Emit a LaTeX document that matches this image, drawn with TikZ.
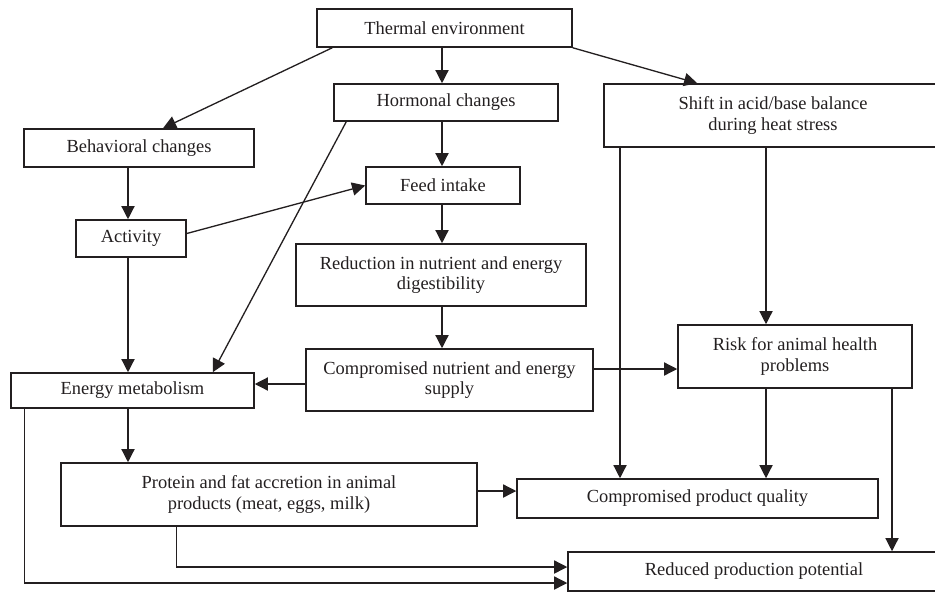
\documentclass[tikz,border=0pt]{standalone}
\usepackage{fontspec}
\setmainfont{Liberation Serif}
\usepackage{xcolor}
\usepackage{tikz}
\usetikzlibrary{arrows.meta,calc}
\definecolor{nero}{HTML}{231F20}
\tikzset{
    blocco/.style={draw=nero, line width=0.9pt, align=center, inner sep=0pt,
        text=nero, font=\fontsize{10.5}{11.5}\selectfont},
    freccia/.style={draw=nero, line width=0.75pt, -{Triangle[length=7.5pt,width=7.5pt]}},
}

\begin{document}
\begin{tikzpicture}[x=0.02cm, y=-0.02cm]
        \useasboundingbox (0,0) rectangle (935,592);
        \clip (0,0) rectangle (935,592);
        % blocchi
        \node[blocco, minimum width=5.10cm, minimum height=0.76cm] (therm) at (444.5,28) {Thermal environment};
        \node[blocco, minimum width=4.48cm, minimum height=0.74cm] (horm) at (446,102.5) {Hormonal changes};
        \node[blocco, minimum width=6.76cm, minimum height=1.26cm] (shift) at (773,115.5) {Shift in acid/base balance\\during heat stress};
        \node[blocco, minimum width=4.60cm, minimum height=0.76cm] (behav) at (139,148) {Behavioral changes};
        \node[blocco, minimum width=3.08cm, minimum height=0.74cm] (feed) at (443,185.5) {Feed intake};
        \node[blocco, minimum width=2.20cm, minimum height=0.74cm] (activ) at (131,238.5) {Activity};
        \node[blocco, minimum width=5.80cm, minimum height=1.24cm] (reduc) at (441,275) {Reduction in nutrient and energy\\digestibility};
        \node[blocco, minimum width=5.74cm, minimum height=1.24cm] (compnut) at (449.5,380) {Compromised nutrient and energy\\supply};
        \node[blocco, minimum width=4.86cm, minimum height=0.70cm] (energy) at (132.5,390.5) {Energy metabolism};
        \node[blocco, minimum width=4.68cm, minimum height=1.26cm] (risk) at (795,356.5) {Risk for animal health\\problems};
        \node[blocco, minimum width=8.32cm, minimum height=1.26cm] (prot) at (269,494.5) {Protein and fat accretion in animal\\products (meat, eggs, milk)};
        \node[blocco, minimum width=7.22cm, minimum height=0.78cm] (qual) at (697.5,498.5) {Compromised product quality};
        \node[blocco, minimum width=7.44cm, minimum height=0.78cm] (reduced) at (754,571.5) {Reduced production potential};
        % colonne delle frecce verticali
        \coordinate (colc) at (442,0);
        \coordinate (cols) at (128,0);
        \coordinate (colq) at (620,0);
        \coordinate (colr) at (766,0);
        \coordinate (colp) at (892,0);
        % frecce
        \draw[freccia] ($(therm.south west)+(16,0)$) -- ($(behav.north)+(24,0)$);
        \draw[freccia] (therm.south -| colc) -- (horm.north -| colc);
        \draw[freccia] (therm.south east) -- ($(shift.north west)+(94,0)$);
        \draw[freccia] (horm.south -| colc) -- (feed.north -| colc);
        \draw[freccia] ($(horm.south west)+(13,0)$) -- ($(energy.north east)+(-42,0)$);
        \draw[freccia] (behav.south -| cols) -- (activ.north -| cols);
        \draw[freccia] ($(activ.east)+(0,-5)$) -- (feed.west);
        \draw[freccia] (activ.south -| cols) -- (energy.north -| cols);
        \draw[freccia] (feed.south -| colc) -- (reduc.north -| colc);
        \draw[freccia] (reduc.south -| colc) -- (compnut.north -| colc);
        \draw[freccia] ($(compnut.west)+(0,4)$) coordinate (a) -- (a -| energy.east);
        \draw[freccia] ($(compnut.east)+(0,-11)$) coordinate (b) -- (b -| risk.west);
        \draw[freccia] (shift.south -| colq) -- (qual.north -| colq);
        \draw[freccia] (shift.south -| colr) -- (risk.north -| colr);
        \draw[freccia] (risk.south -| colr) -- (qual.north -| colr);
        \draw[freccia] (risk.south -| colp) -- (reduced.north -| colp);
        \draw[freccia] (energy.south -| cols) -- (prot.north -| cols);
        \draw[freccia] ($(prot.east)+(0,-3.5)$) coordinate (c) -- (c -| qual.west);
        % ritorni verso il basso
        \draw[freccia] ($(energy.south west)+(14,0)$) |- ($(reduced.west)+(0,11.5)$);
        \draw[freccia] ($(prot.south west)+(116,0)$) |- ($(reduced.west)+(0,-4.5)$);
\end{tikzpicture}
\end{document}
